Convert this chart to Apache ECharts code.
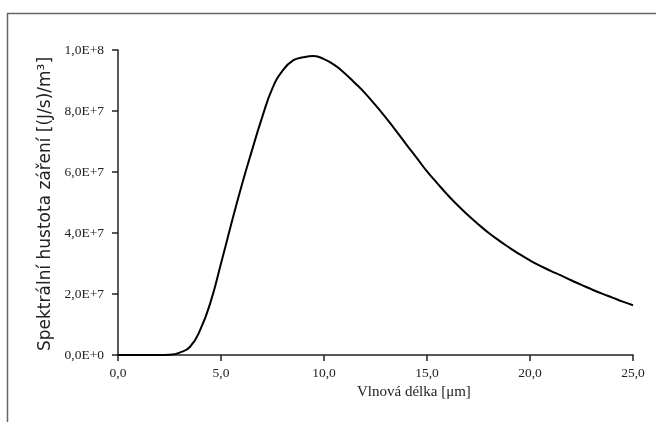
<!DOCTYPE html>
<html>
<head>
<meta charset="utf-8">
<script src="https://cdn.jsdelivr.net/npm/echarts@6/dist/echarts.min.js"></script>
<style>html,body{margin:0;padding:0;background:#fff}#c{width:656px;height:422px}</style>
</head>
<body>
<div id="c"></div>
<script>
// wavelength [µm]
const wavelengths = [0, 0.5, 1, 1.5, 2, 2.5, 3, 3.5, 4, 4.5, 5, 5.5, 6, 6.5, 7, 7.5, 8, 8.5, 9, 9.5, 10, 10.5, 11, 11.5, 12, 12.5, 13, 13.5, 14, 14.5, 15, 15.5, 16, 16.5, 17, 17.5, 18, 18.5, 19, 19.5, 20, 20.5, 21, 21.5, 22, 22.5, 23, 23.5, 24, 24.5, 25];
// spectral density [(J/s)/m³], in millions
const densityMillions = [0, 0, 0, 0, 0, 0.1, 0.8, 2.7, 8.4, 17.5, 30, 43, 55.5, 67, 78, 87.5, 93.3, 96.6, 97.6, 98, 97.0, 95.1, 92.4, 89.2, 85.8, 81.9, 77.8, 73.5, 69, 64.6, 60.2, 56.3, 52.5, 49, 45.8, 42.8, 40, 37.5, 35.2, 33, 31, 29.2, 27.6, 26.1, 24.5, 23, 21.5, 20.1, 18.8, 17.5, 16.3];
const xTitle = 'Vlnová délka [μm]';
const yTitle = 'Spektrální hustota záření [(J/s)/m³]';

const data = wavelengths.map((w, i) => [w, densityMillions[i] * 1e6]);

function sciLabel(v) {
  if (v === 0) return '0,0E+0';
  const e = Math.floor(Math.log10(Math.abs(v)) + 1e-9);
  const m = v / Math.pow(10, e);
  return m.toFixed(1).replace('.', ',') + 'E+' + e;
}

const chart = echarts.init(document.getElementById('c'), null, {renderer: 'canvas'});
chart.setOption({
  backgroundColor: '#fff',
  animation: false,
  grid: {left: 118, right: 23, top: 50, bottom: 67},
  xAxis: {
    type: 'value', min: 0, max: 25, interval: 5,
    axisLine: {show: true, lineStyle: {color: '#222', width: 1.5}},
    axisTick: {show: true, length: 6, lineStyle: {color: '#222', width: 1.5}},
    axisLabel: {color: '#222', fontFamily: 'Liberation Serif', fontSize: 13.5, margin: 11,
      formatter: v => v.toFixed(1).replace('.', ',')},
    splitLine: {show: false}
  },
  yAxis: {
    type: 'value', min: 0, max: 1e8, interval: 2e7,
    axisLine: {show: true, lineStyle: {color: '#222', width: 1.5}},
    axisTick: {show: true, length: 6, lineStyle: {color: '#222', width: 1.5}},
    axisLabel: {color: '#222', fontFamily: 'Liberation Serif', fontSize: 13.5, margin: 14, formatter: sciLabel},
    splitLine: {show: false}
  },
  series: [{
    type: 'line', data: data, smooth: 0.5, showSymbol: false,
    lineStyle: {color: '#000', width: 2}
  }],
  graphic: [
    {type: 'polyline', shape: {points: [[7.5, 422], [7.5, 13.5], [656, 13.5]]},
      style: {stroke: '#666', lineWidth: 1.5, fill: null}},
    {type: 'text', left: 357, top: 385,
      style: {text: xTitle, fill: '#222', font: '15px "Liberation Serif"'}},
    {type: 'text', x: 46, y: 204, rotation: Math.PI / 2,
      style: {text: yTitle, fill: '#222', font: '17px "DejaVu Sans"', align: 'center', verticalAlign: 'middle'}}
  ]
});
</script>
</body>
</html>
